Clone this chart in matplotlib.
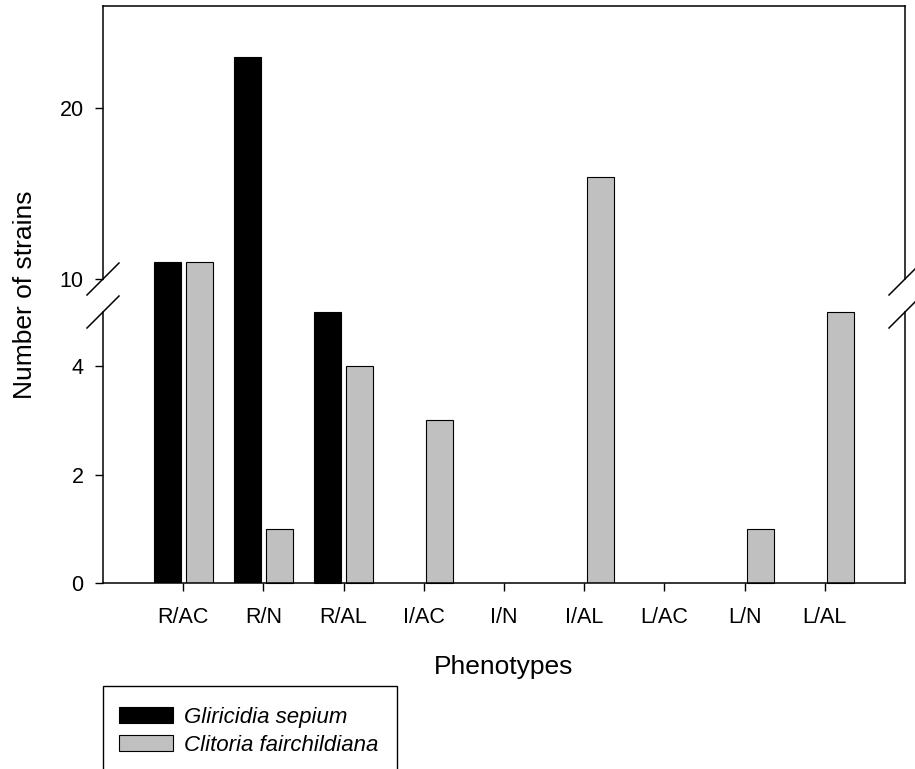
import matplotlib
matplotlib.use("Agg")
import matplotlib.pyplot as plt
from matplotlib.patches import Patch, Rectangle
from matplotlib.lines import Line2D
import numpy as np

plt.rcParams['font.family'] = ['Liberation Sans', 'DejaVu Sans']

categories = ["R/AC", "R/N", "R/AL", "I/AC", "I/N", "I/AL", "L/AC", "L/N", "L/AL"]
gliricidia = [11, 23, 5, 0, 0, 0, 0, 0, 0]
clitoria = [11, 1, 4, 3, 0, 16, 0, 1, 5]
series_names = ["Gliricidia sepium", "Clitoria fairchildiana"]
series_colors = ["#000000", "#c0c0c0"]
lower_ticks = [0, 2, 4]
upper_ticks = [10, 20]
lower_lim = (0, 5)
upper_lim = (10, 26)

W, H = 915, 769
fig = plt.figure(figsize=(W / 100, H / 100), dpi=100)

def fx(px):
    return px / W

def fy(py):
    return 1 - py / H

left, right = 103, 905
ax_up = fig.add_axes([fx(left), fy(279), fx(right - left), fy(6) - fy(279)])
ax_lo = fig.add_axes([fx(left), fy(583), fx(right - left), fy(312) - fy(583)])

x = np.arange(len(categories))
width = 0.34
offset = 0.2
spine_lw = 1.1

for ax, lim in ((ax_up, upper_lim), (ax_lo, lower_lim)):
    for vals, off, col in ((gliricidia, -offset, series_colors[0]), (clitoria, offset, series_colors[1])):
        bars = ax.bar(x + off, vals, width=width, color=col, edgecolor="black", linewidth=0.8)
        for b, v in zip(bars, vals):
            if lim[0] <= v <= lim[1]:
                b.set_clip_on(False)
            if v <= lim[0]:
                b.set_visible(False)
    ax.set_ylim(*lim)
    ax.set_xlim(-1, 9)
    for s in ax.spines.values():
        s.set_linewidth(spine_lw)
        s.set_zorder(5)
    ax.tick_params(axis="y", direction="out", length=6, width=1.0, labelsize=15.5, pad=8)

ax_up.spines["bottom"].set_visible(False)
ax_lo.spines["top"].set_visible(False)
ax_up.set_yticks(upper_ticks)
ax_lo.set_yticks(lower_ticks)
ax_up.set_xticks([])
ax_lo.set_xticks(x)
ax_lo.set_xticklabels(categories)
ax_lo.tick_params(axis="x", direction="out", length=6, width=1.0, labelsize=15.5, pad=11.5)

# break marks
d = 16
for px in (left, right):
    for py in (279, 312):
        fig.add_artist(Line2D([fx(px - d), fx(px + d)], [fy(py + d), fy(py - d)],
                              transform=fig.transFigure, color="black", linewidth=1.1,
                              clip_on=False))

fig.text(fx(504), fy(667), "Phenotypes", ha="center", va="center", fontsize=19)
fig.text(fx(25), fy(295), "Number of strains", ha="center", va="center",
         rotation=90, fontsize=19)

# legend frame (extends below the figure edge as in the original)
fig.add_artist(Rectangle((fx(103), fy(800)), fx(397) - fx(103), fy(686) - fy(800),
                         transform=fig.transFigure, facecolor="none", edgecolor="black",
                         linewidth=1.0, clip_on=False))

handles = [Patch(facecolor=c, edgecolor="black", linewidth=0.8) for c in series_colors]
leg = fig.legend(handles, series_names, loc="upper left",
                 bbox_to_anchor=(fx(103), fy(691)), bbox_transform=fig.transFigure,
                 borderaxespad=0, frameon=False, prop={"style": "italic", "size": 16},
                 handlelength=2.45, handleheight=0.72, handletextpad=0.5,
                 borderpad=0.7, labelspacing=0.33)

fig.savefig("out.png", dpi=100)
